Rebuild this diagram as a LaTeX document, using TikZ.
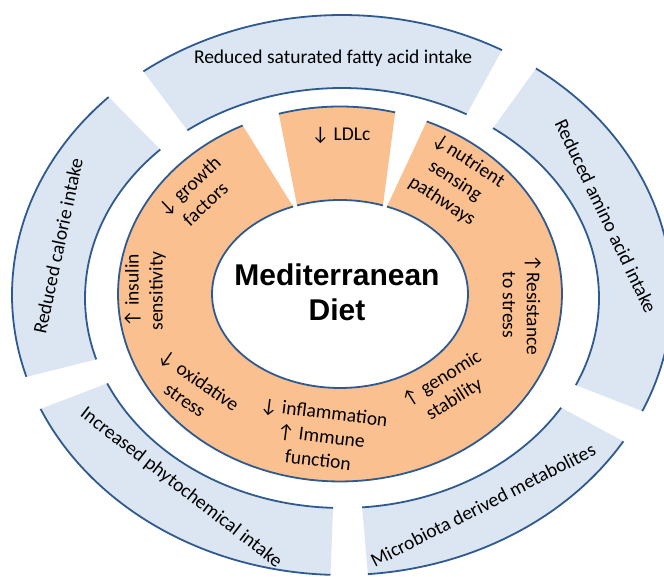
\documentclass[tikz,border=0pt]{standalone}
\usepackage{fontspec}
\setmainfont{Carlito}
\newfontfamily\ctrfont{Liberation Sans}
\definecolor{bandfill}{HTML}{DCE6F2}
\definecolor{ringfill}{HTML}{FAC090}
\definecolor{edgeblue}{HTML}{2F5A8F}
\newcommand\arrdn{↓}
\newcommand\arrup{↑}
\newcommand\bandseg[2]{%
  \fill[bandfill] plot[domain=#1:#2,samples=80] ({342+330*cos(\x)},{295-280*sin(\x)})
     -- plot[domain=#2:#1,samples=80] ({342+257*cos(\x)},{298-210*sin(\x)}) -- cycle;
  \draw[edgeline] plot[domain=#1:#2,samples=80] ({342+330*cos(\x)},{295-280*sin(\x)});
  \draw[edgeline] plot[domain=#1:#2,samples=80] ({342+257*cos(\x)},{298-210*sin(\x)});}
\begin{document}
\begin{tikzpicture}[x=1pt,y=-1pt,
  lbl/.style={font=\fontsize{19.5}{24}\selectfont, text=black, align=center, inner sep=0pt},
  edgeline/.style={draw=edgeblue, line width=1.8pt}]
\useasboundingbox (0,0) rectangle (664,576);
\clip (0,0) rectangle (664,576);
\fill[white] (0,0) rectangle (664,576);

% outer blue band segments
\bandseg{61}{127}
\bandseg{135}{197}
\bandseg{204}{268}
\bandseg{274.5}{328.5}
\bandseg{335.5}{414}

% orange ring (big C)
\fill[ringfill] plot[domain=116:427,samples=120] ({340+222*cos(\x)},{294-187.5*sin(\x)})
   -- plot[domain=428.5:111.5,samples=120] ({340+128*cos(\x)},{294-94*sin(\x)}) -- cycle;
\draw[edgeline] plot[domain=116:427,samples=120] ({340+222*cos(\x)},{294-187.5*sin(\x)});
\draw[edgeline] plot[domain=111.5:428.5,samples=120] ({340+128*cos(\x)},{294-94*sin(\x)});

% LDLc piece
\fill[ringfill] plot[domain=75.6:106,samples=40] ({340+222*cos(\x)},{294-187.5*sin(\x)})
   -- plot[domain=109.6:70.4,samples=40] ({340+128*cos(\x)},{294-94*sin(\x)}) -- cycle;
\draw[edgeline] plot[domain=75.6:106,samples=40] ({340+222*cos(\x)},{294-187.5*sin(\x)});
\draw[edgeline] plot[domain=70.4:109.6,samples=40] ({340+128*cos(\x)},{294-94*sin(\x)});

% outer band labels
\node[lbl] (fat) at (333,58) {Reduced saturated fatty acid intake};
\node[lbl, rotate=78] (cal) at (58,246) {Reduced calorie intake};
\node[lbl, rotate=-64.5] (amino) at (606,216) {Reduced amino acid intake};
\node[lbl, rotate=-37.8] (phyto) at (181,488) {Increased phytochemical intake};
\node[lbl, rotate=27] (micro) at (483,505) {Microbiota derived metabolites};

% ring labels
\node[lbl] (ldl) at (341,135) {\arrdn\ LDLc};
\node[lbl, rotate=43] (growth) at (197,195) {\arrdn\ growth\\factors};
\node[lbl, rotate=-33] (nutr) at (455,181) {\arrdn nutrient\\sensing\\pathways};
\node[lbl, rotate=-90] (resist) at (522,305) {\arrup Resistance\\to stress};
\node[lbl, rotate=32] (genom) at (448,389) {\arrup\ genomic\\stability};
\node[lbl, rotate=-7] (infl) at (321,436) {\arrdn\ inflammation\\\arrup\ Immune\\function};
\node[lbl, rotate=-35] (oxid) at (192,390) {\arrdn\ oxidative\\stress};
\node[lbl, rotate=90] (insul) at (145,291) {\arrup\ insulin\\sensitivity};

% centre
\node[font=\ctrfont\bfseries\fontsize{30}{35}\selectfont, align=center, inner sep=0pt] (md) at (337,292) {Mediterranean\\Diet};
\end{tikzpicture}
\end{document}
